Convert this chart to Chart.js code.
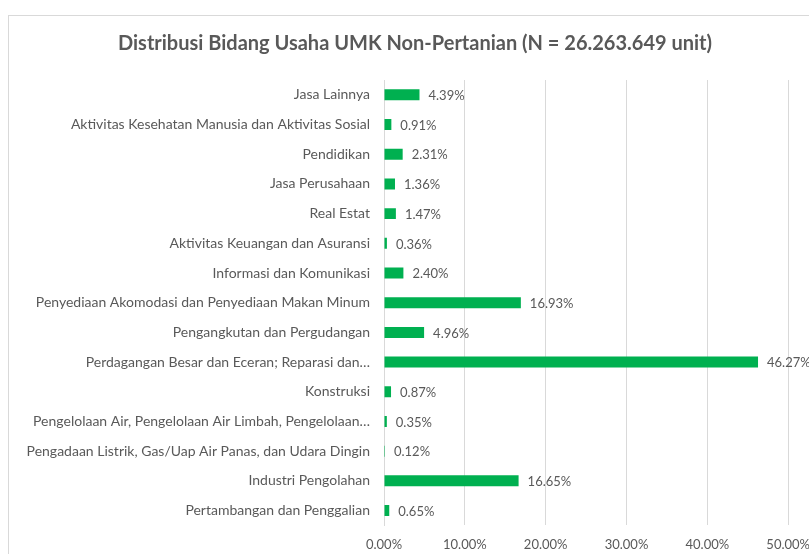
<!DOCTYPE html>
<html>
<head>
<meta charset="utf-8">
<script src="https://cdn.jsdelivr.net/npm/chart.js@4/dist/chart.umd.min.js"></script>
<style>
  html, body { margin: 0; padding: 0; background: #fff; overflow: hidden; }
  #box { position: absolute; left: 8px; top: 15px; width: 830px; height: 560px;
         border-left: 1px solid #d9d9d9; border-top: 1px solid #d9d9d9; }
  #wrap { position: absolute; left: 8px; top: 15px; width: 814px; height: 551px; }
</style>
</head>
<body>
<div id="box"></div>
<div id="wrap"><canvas id="myChart"></canvas></div>
<script>
const judul = 'Distribusi Bidang Usaha UMK Non-Pertanian (N = 26.263.649 unit)'

const bidang = [
  'Jasa Lainnya',
  'Aktivitas Kesehatan Manusia dan Aktivitas Sosial',
  'Pendidikan',
  'Jasa Perusahaan',
  'Real Estat',
  'Aktivitas Keuangan dan Asuransi',
  'Informasi dan Komunikasi',
  'Penyediaan Akomodasi dan Penyediaan Makan Minum',
  'Pengangkutan dan Pergudangan',
  'Perdagangan Besar dan Eceran; Reparasi dan…',
  'Konstruksi',
  'Pengelolaan Air, Pengelolaan Air Limbah, Pengelolaan…',
  'Pengadaan Listrik, Gas/Uap Air Panas, dan Udara Dingin',
  'Industri Pengolahan',
  'Pertambangan dan Penggalian'
]

const persen = [4.39, 0.91, 2.31, 1.36, 1.47, 0.36, 2.40, 16.93, 4.96, 46.27, 0.87, 0.35, 0.12, 16.65, 0.65]

const xTicks = [0, 10, 20, 30, 40, 50]

const abu = '#595959'
const huruf = 'Lato'

// label nilai di ujung batang
const labelNilai = {
  id: 'labelNilai',
  afterDatasetsDraw(chart) {
    const ctx = chart.ctx
    const meta = chart.getDatasetMeta(0)
    ctx.save()
    ctx.font = '13px ' + huruf
    ctx.fillStyle = abu
    ctx.textAlign = 'left'
    ctx.textBaseline = 'middle'
    meta.data.forEach(function(bar, i){
      ctx.fillText(persen[i].toFixed(2) + '%', bar.x + 9, bar.y + 1)
    })
    ctx.restore()
  }
}

window.onload = function(){
  const data = {
    labels: bidang,
    datasets: [{
      data: persen,
      backgroundColor: '#00B050',
      borderWidth: 0,
      categoryPercentage: 1,
      barPercentage: 0.37
    }]
  }

  const config = {
    type: 'bar',
    data: data,
    options: {
      indexAxis: 'y',
      responsive: true,
      maintainAspectRatio: false,
      animation: false,
      layout: { padding: { left: 0, right: 0, top: 0, bottom: 1 } },
      plugins: {
        legend: { display: false },
        tooltip: { enabled: false },
        title: {
          display: true,
          text: judul,
          color: abu,
          font: { family: huruf, size: 20, weight: 'bold' },
          padding: { top: 17, bottom: 24 }
        }
      },
      scales: {
        x: {
          min: 0,
          max: 50,
          afterBuildTicks: function(scale){
            scale.ticks = xTicks.map(function(v){ return { value: v } })
          },
          ticks: {
            color: abu,
            font: { family: huruf, size: 13 },
            padding: 12,
            callback: function(v){ return Number(v).toFixed(2) + '%' }
          },
          grid: { color: '#d9d9d9', drawTicks: false },
          border: { display: false }
        },
        y: {
          afterFit: function(scale){ scale.width = 376 },
          ticks: {
            color: abu,
            font: { family: huruf, size: 14 },
            padding: 14,
            autoSkip: false
          },
          grid: { display: false, drawTicks: false },
          border: { display: true, color: '#d9d9d9' }
        }
      }
    },
    plugins: [labelNilai]
  }

  const myChart = new Chart(document.getElementById('myChart'), config)
}
</script>
</body>
</html>
